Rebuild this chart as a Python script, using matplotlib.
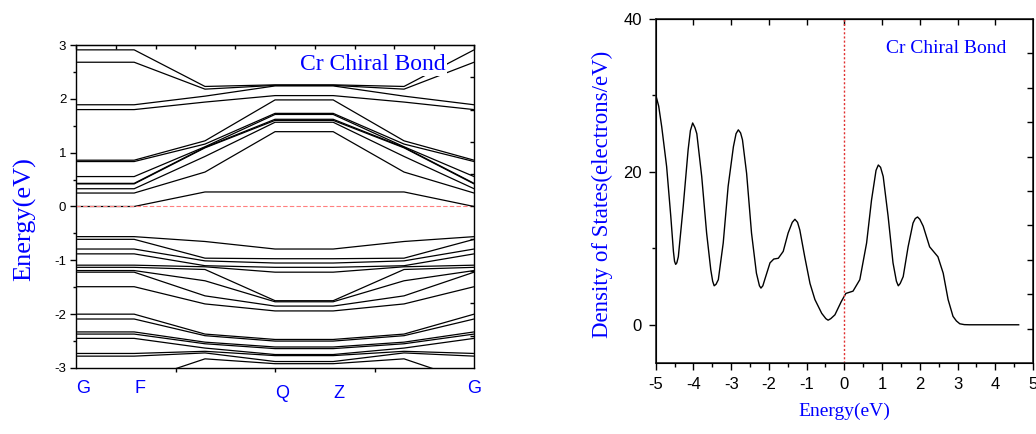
import numpy as np
import matplotlib
matplotlib.use('Agg')
import matplotlib.pyplot as plt

plt.rcParams['axes.unicode_minus'] = False

# k-path positions (G, F, mid, Q, Z, mid, G)
kpath = [0.0, 0.146, 0.324, 0.5, 0.646, 0.824, 1.0]
klabels = ['G', 'F', 'Q', 'Z', 'G']
klabel_pos = [0.0, 0.146, 0.5, 0.646, 1.0]

# band energies (eV) at G/F, at the mid points, at Q/Z
bands_g = [2.91, 2.68, 1.89, 1.80, 0.86, 0.835, 0.556, 0.43, 0.42, 0.33, 0.25, 0.0,
           -0.56, -0.61, -0.79, -0.88, -1.09, -1.13, -1.19, -1.22, -1.49, -2.00,
           -2.09, -2.33, -2.37, -2.45, -2.73, -2.78, -3.27]
bands_mid = [2.23, 2.18, 2.05, 1.94, 1.22, 1.16, 1.11, 1.10, 1.09, 0.93, 0.64, 0.27,
             -0.65, -0.96, -1.01, -1.10, -1.12, -1.17, -1.38, -1.66, -1.81, -2.37,
             -2.40, -2.52, -2.55, -2.63, -2.69, -2.72, -2.83]
bands_q = [2.26, 2.25, 2.24, 2.06, 1.98, 1.73, 1.71, 1.62, 1.60, 1.565, 1.39, 0.27,
           -0.79, -0.97, -1.05, -1.13, -1.22, -1.75, -1.77, -1.85, -1.94, -2.47,
           -2.50, -2.61, -2.64, -2.75, -2.77, -2.88, -2.92]

# density of states
dos_e = [-5.0, -4.92, -4.84, -4.71, -4.60, -4.53, -4.50, -4.47, -4.44, -4.40, -4.27,
         -4.14, -4.08, -4.02, -3.96, -3.91, -3.78, -3.65, -3.54, -3.49, -3.45, -3.40,
         -3.34, -3.21, -3.08, -2.94, -2.87, -2.81, -2.75, -2.70, -2.59, -2.46, -2.33,
         -2.25, -2.21, -2.16, -2.11, -1.97, -1.87, -1.75, -1.62, -1.49, -1.38, -1.31,
         -1.24, -1.18, -1.05, -0.91, -0.78, -0.60, -0.49, -0.43, -0.36, -0.25, -0.08,
         0.04, 0.23, 0.41, 0.59, 0.72, 0.84, 0.90, 0.96, 1.03, 1.16, 1.29, 1.38, 1.43,
         1.48, 1.56, 1.69, 1.82, 1.88, 1.94, 2.00, 2.09, 2.26, 2.48, 2.62, 2.75, 2.88,
         2.97, 3.06, 3.18, 3.32, 4.62]
dos = [30.1, 28.6, 25.9, 20.7, 14.2, 9.6, 8.3, 7.9, 8.1, 8.9, 15.5,
       22.9, 25.4, 26.4, 25.8, 25.0, 19.4, 12.0, 7.2, 5.7, 5.1, 5.3,
       5.9, 10.7, 18.1, 23.3, 25.0, 25.5, 25.1, 24.2, 19.8, 12.0, 6.75,
       5.1, 4.8, 5.1, 5.9, 8.1, 8.6, 8.7, 9.6, 12.0, 13.4, 13.8,
       13.4, 12.4, 8.9, 5.4, 3.3, 1.5, 0.8, 0.6, 0.8, 1.3, 3.05,
       4.1, 4.4, 5.9, 10.7, 16.3, 20.2, 20.9, 20.6, 19.4, 14.2, 8.1, 5.7, 5.1,
       5.4, 6.3, 10.2, 13.3, 13.9, 14.1, 13.8, 12.9, 10.2, 8.9, 6.75, 3.3, 1.1,
       0.5, 0.13, 0.02, 0.0, 0.0]

sans = 'Liberation Sans'
serif = 'Liberation Serif'

fig = plt.figure(figsize=(10.36, 4.34), dpi=100)

# ---- band structure ----
ax1 = fig.add_axes([0.0734, 0.1521, 0.3842, 0.7442])
for g, m, q in zip(bands_g, bands_mid, bands_q):
    ax1.plot(kpath, [g, g, m, q, q, m, g], color='black', lw=0.9, zorder=2)
ax1.axhline(0, color='#ff8080', lw=0.8, ls=(0, (4, 2)), zorder=3)
ax1.set_xlim(0, 1)
ax1.set_ylim(-3, 3)
ax1.set_yticks(np.arange(-3, 4, 1))
ax1.set_yticks(np.arange(-3, 3.01, 0.5), minor=True)
ax1.set_xticks([0.25, 0.5, 0.75])
ax1.set_xticklabels([])
ax1.tick_params(axis='y', which='major', direction='out', length=4, width=1,
                labelsize=9.5, pad=3, right=False)
ax1.tick_params(axis='y', which='minor', direction='out', length=2, width=1, right=False)
ax1.tick_params(axis='x', which='major', direction='out', length=3, width=1)
for lab in ax1.get_yticklabels():
    lab.set_family(sans)
for sp in ax1.spines.values():
    sp.set_linewidth(1.0)
    sp.set_color('#333333')

# mirrored ticks on top/right (Origin style)
top1 = ax1.secondary_xaxis('top')
top1.set_xticks(np.arange(0, 1.01, 0.1))
top1.set_xticklabels([])
top1.tick_params(direction='in', length=3, width=1)
right1 = ax1.twinx()
right1.set_ylim(0, 10)
right1.set_yticks(np.arange(1, 10))
right1.set_yticklabels([])
right1.tick_params(direction='in', length=3, width=1)

for pos, lab in zip(klabel_pos, klabels):
    yoff = -0.078 if lab in ('Q', 'Z') else -0.062
    ha = 'center' if pos == 1.0 else 'left'
    ax1.text(pos, yoff, lab, transform=ax1.transAxes, ha=ha, va='center',
             color='blue', fontsize=13, family=sans)

ax1.set_ylabel('Energy(eV)', color='blue', fontsize=19, family=serif)
ax1.yaxis.set_label_coords(-0.100, 0.46)
ax1.text(0.745, 0.94, 'Cr Chiral Bond', transform=ax1.transAxes, ha='center',
         va='center', color='blue', fontsize=17, family=serif, zorder=5,
         bbox=dict(facecolor='white', edgecolor='none', pad=1))

# ---- DOS ----
ax2 = fig.add_axes([0.6329, 0.1636, 0.3642, 0.7926])
ax2.plot(dos_e, dos, color='black', lw=1.0)
ax2.axvline(0, color='#e03030', lw=1.0, ls=(0, (1.5, 1.5)))
ax2.set_xlim(-5, 5)
ax2.set_ylim(-5, 40)
ax2.set_xticks(np.arange(-5, 6, 1))
ax2.set_xticks(np.arange(-5, 5.01, 0.5), minor=True)
ax2.set_yticks([0, 20, 40])
ax2.set_yticks([10, 30], minor=True)
ax2.tick_params(which='major', direction='out', length=5, width=1, labelsize=12, pad=5)
ax2.tick_params(which='minor', direction='out', length=3, width=1)
for lab in ax2.get_xticklabels() + ax2.get_yticklabels():
    lab.set_family(sans)
for sp in ax2.spines.values():
    sp.set_linewidth(1.2)
    sp.set_color('#222222')

top2 = ax2.secondary_xaxis('top')
top2.set_xticks(np.arange(-4, 5, 1))
top2.set_xticklabels([])
top2.tick_params(direction='in', length=4, width=1)
right2 = ax2.twinx()
right2.set_ylim(0, 10)
right2.set_yticks(np.arange(1, 10))
right2.set_yticklabels([])
right2.tick_params(direction='in', length=4, width=1)

ax2.set_xlabel('Energy(eV)', color='blue', fontsize=14, family=serif)
ax2.xaxis.set_label_coords(0.5, -0.115)
ax2.set_ylabel('Density of States(electrons/eV)', color='blue', fontsize=16.5, family=serif)
ax2.yaxis.set_label_coords(-0.113, 0.49)
ax2.text(0.77, 0.915, 'Cr Chiral Bond', transform=ax2.transAxes, ha='center',
         va='center', color='blue', fontsize=14, family=serif)

fig.savefig('out.png', dpi=100)
